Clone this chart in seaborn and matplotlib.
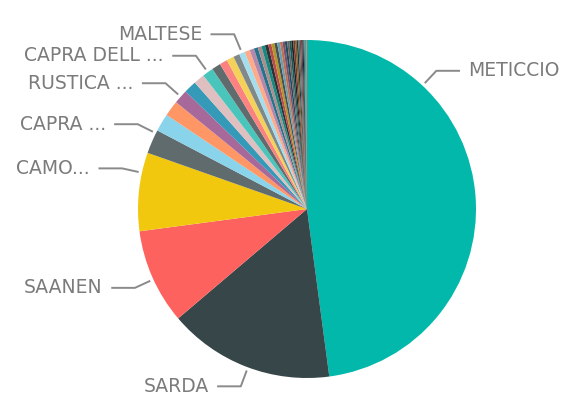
import numpy as np
import pandas as pd
import seaborn as sns
import matplotlib
matplotlib.use('Agg')
import matplotlib.pyplot as plt

# Data (share of animals per breed, in %)
top_breeds = ['METICCIO', 'SARDA', 'SAANEN', 'CAMO...', 'CAPRA ...',
              'RAZZA 6', 'RAZZA 7', 'RUSTICA ...', 'RAZZA 9', 'RAZZA 10',
              'CAPRA DELL ...', 'RAZZA 12', 'RAZZA 13', 'RAZZA 14', 'RAZZA 15',
              'MALTESE', 'RAZZA 17', 'RAZZA 18']
top_share = [47.9, 15.9, 9.1, 7.5, 2.3,
             1.7, 1.5, 1.35, 1.2, 1.05,
             1.05, 0.85, 0.75, 0.7, 0.6,
             0.55, 0.5, 0.42]
tail_share = [0.38, 0.36, 0.34, 0.32, 0.30, 0.29, 0.27, 0.26, 0.24, 0.23,
              0.22, 0.20, 0.19, 0.18, 0.17, 0.16, 0.15, 0.14, 0.13, 0.12,
              0.11, 0.10, 0.09, 0.08, 0.06]
tail_breeds = ['RAZZA %d' % (i + 19) for i in range(len(tail_share))]

# labels shown on the chart
shown_labels = ['METICCIO', 'SARDA', 'SAANEN', 'CAMO...', 'CAPRA ...',
                'RUSTICA ...', 'CAPRA DELL ...', 'MALTESE']

df = pd.DataFrame({'razza': top_breeds + tail_breeds,
                   'quota': top_share + tail_share})

# Power BI style colours
pbi = ['#01B8AA', '#374649', '#FD625E', '#F2C80F', '#5F6B6D', '#8AD4EB',
       '#FE9666', '#A66999', '#3599B8', '#DFBFBF', '#4AC5BB', '#5F6B6D',
       '#FB8281', '#F4D25A', '#7F898A', '#A4DDEE', '#FDAB89', '#B687AC',
       '#28738A', '#A78F8F', '#168980', '#293537', '#BB4A4A', '#B59525',
       '#475052', '#6A9FB0', '#BD7150', '#7B4F71', '#1B4D5C', '#706060',
       '#0F5C55', '#1C2325', '#7D3231', '#796419', '#303637', '#476A75',
       '#7E4B36', '#52354C', '#0D262E', '#544848']
colors = sns.color_palette(pbi, n_colors=len(df))

sns.set_style('white')
plt.rcParams['font.family'] = ['DejaVu Sans']

fig = plt.figure(figsize=(5.79, 4.17), dpi=100)
ax = fig.add_axes([0, 0, 1, 1])

wedges, _ = ax.pie(df['quota'], colors=colors, startangle=90, counterclock=False,
                   wedgeprops={'linewidth': 0})

# where along each labelled slice the leader line starts (0 = start, 1 = end)
anchor_frac = {'METICCIO': 0.25, 'SARDA': 0.49, 'SAANEN': 0.48, 'CAMO...': 0.74,
               'CAPRA ...': 0.87, 'RUSTICA ...': 0.5, 'CAPRA DELL ...': 0.5,
               'MALTESE': 0.5}

line_col = '#8a8a8a'
text_col = '#7b7b7b'
for w, name in zip(wedges, df['razza']):
    if name not in shown_labels:
        continue
    f = anchor_frac[name]
    t = np.deg2rad(w.theta2 - f * (w.theta2 - w.theta1))
    x0, y0 = 1.02 * np.cos(t), 1.02 * np.sin(t)
    x1, y1 = 1.12 * np.cos(t), 1.12 * np.sin(t)
    side = 1 if x1 > 0 else -1
    x2 = x1 + side * 0.14
    ax.plot([x0, x1, x2], [y0, y1, y1], color=line_col, lw=1.4,
            solid_capstyle='butt')
    ax.text(x2 + side * 0.05, y1, name, ha='left' if side > 0 else 'right',
            va='center', fontsize=13.5, color=text_col)

ax.set_aspect('auto')
ax.set_xlim(-307 / 169, (579 - 307) / 169)
ax.set_ylim(-(417 - 209) / 169, 209 / 169)
ax.axis('off')

fig.savefig('out.png', dpi=100)
